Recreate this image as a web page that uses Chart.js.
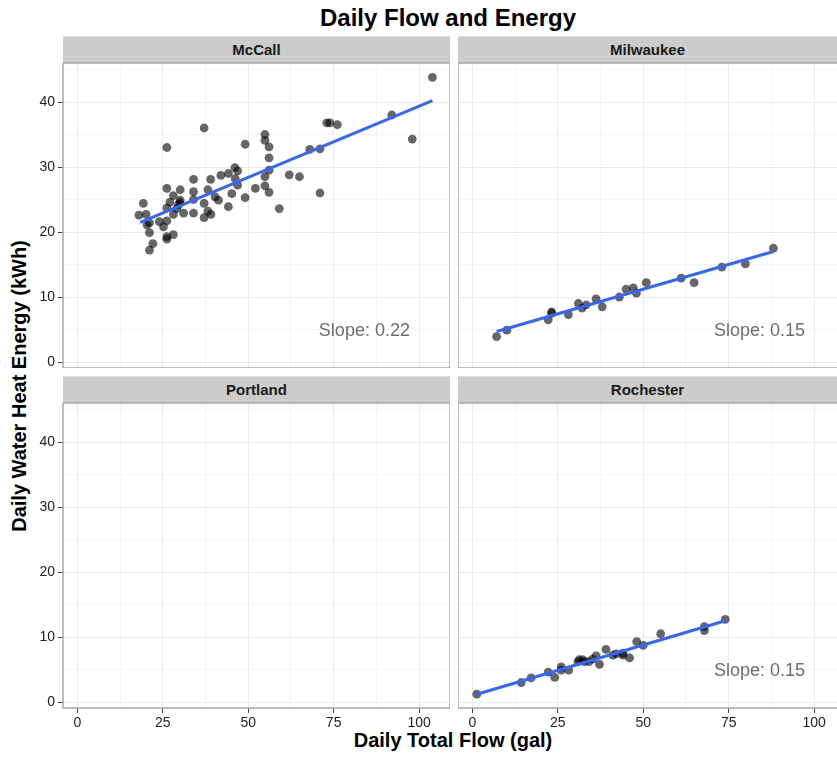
<!DOCTYPE html>
<html>
<head>
<meta charset="utf-8">
<title>Daily Flow and Energy</title>
<script src="https://cdn.jsdelivr.net/npm/chart.js"></script>
<style>
  body { margin: 0; background: #fff; font-family: "Liberation Sans", Arial, sans-serif; }
  #page { position: relative; width: 837px; height: 757px; overflow: hidden; background: #fff; }
  .strip { position: absolute; height: 27px; background: #cccccc; border-top: 1px solid #dedede; border-bottom: 1px solid #b0b0b0;
           box-sizing: border-box; font-weight: bold; font-size: 15px; color: #1a1a1a; text-align: center; line-height: 25px; }
  canvas { position: absolute; }
  #title { position: absolute; left: 198px; width: 500px; top: 6px; text-align: center; font-weight: bold; font-size: 24px; line-height: 24px; color: #000; }
  #xtitle { position: absolute; left: 253px; width: 400px; top: 730px; text-align: center; font-weight: bold; font-size: 20px; line-height: 20px; color: #000; }
  #ytitle { position: absolute; left: -181px; width: 400px; top: 376px; text-align: center; font-weight: bold; font-size: 20px; line-height: 20px; color: #000;
            transform: rotate(-90deg); }
</style>
</head>
<body>
<div id="page">
  <div id="title">Daily Flow and Energy</div>
  <div id="ytitle">Daily Water Heat Energy (kWh)</div>
  <div id="xtitle">Daily Total Flow (gal)</div>
</div>
<script>
// facets and axis ticks
const panelNames = ['McCall', 'Milwaukee', 'Portland', 'Rochester'];
const xTicks = [0, 25, 50, 75, 100];
const yTicks = [0, 10, 20, 30, 40];

// daily total flow (gal) / daily water heat energy (kWh)
const mccallFlow = [18.0, 19.3, 20.1, 20.4, 21.1, 21.1, 22.1, 21.1, 24.0, 25.2, 26.2, 26.2, 26.2, 28.1, 26.2, 27.1, 28.1, 29.1,
  29.6, 30.1, 30.0, 28.1, 26.2, 30.1, 26.2, 31.1, 34.0, 34.0, 34.0, 34.0, 37.1, 37.1, 37.1, 38.2, 39.1, 38.2, 39.0, 40.3, 41.3,
  42.0, 44.2, 44.2, 45.2, 46.1, 46.9, 46.2, 46.9, 49.1, 49.1, 52.1, 54.9, 54.9, 56.1, 56.1, 56.1, 54.9, 54.9, 56.1, 59.1, 62.0,
  65.0, 68.0, 71.0, 71.0, 73.0, 73.9, 76.1, 92.0, 98.0, 103.9];
const mccallEnergy = [22.6, 24.4, 22.7, 21.1, 21.4, 19.9, 18.2, 17.2, 21.6, 20.8, 21.7, 19.3, 18.9, 19.6, 23.7, 24.6, 22.7, 23.6,
  24.2, 24.9, 24.5, 25.6, 26.7, 26.5, 33.0, 22.9, 22.9, 25.0, 26.2, 28.1, 22.2, 24.4, 36.0, 23.2, 22.7, 26.5, 28.1, 25.4, 24.9,
  28.7, 29.0, 23.9, 25.9, 29.9, 29.4, 28.2, 27.2, 25.3, 33.5, 26.7, 35.0, 34.1, 33.1, 31.4, 29.5, 28.5, 27.1, 26.1, 23.6, 28.8,
  28.5, 32.7, 32.8, 26.0, 36.8, 36.8, 36.5, 38.0, 34.3, 43.8];

const milwaukeeFlow = [7.1, 10.1, 22.2, 23.2, 23.2, 28.1, 31.0, 32.1, 33.3, 36.2, 38.0, 43.0, 45.0, 47.1, 48.0, 50.9, 61.1, 64.9,
  73.0, 79.9, 88.1];
const milwaukeeEnergy = [3.9, 4.9, 6.5, 7.5, 7.7, 7.3, 9.0, 8.3, 8.8, 9.7, 8.5, 10.0, 11.2, 11.4, 10.6, 12.2, 12.9, 12.2,
  14.6, 15.1, 17.5];

const portlandFlow = [];
const portlandEnergy = [];

const rochesterFlow = [1.3, 14.3, 17.2, 22.2, 24.1, 26.0, 26.0, 28.2, 30.9, 31.3, 32.3, 32.8, 34.1, 35.2, 36.2, 37.2, 39.1, 41.1,
  42.1, 44.0, 44.1, 46.0, 48.1, 50.0, 55.1, 67.9, 67.9, 74.0];
const rochesterEnergy = [1.2, 3.0, 3.7, 4.6, 3.8, 5.4, 4.9, 4.9, 6.2, 6.5, 6.5, 6.2, 6.2, 6.6, 7.1, 5.8, 8.1, 7.2,
  7.4, 7.5, 7.2, 6.8, 9.3, 8.7, 10.5, 11.6, 11.0, 12.7];

// fitted line end points
const mccallFitFlow = [18.4, 103.9];
const mccallFitEnergy = [21.5, 40.2];
const milwaukeeFitFlow = [7.1, 88.1];
const milwaukeeFitEnergy = [4.7, 17.0];
const rochesterFitFlow = [1.3, 74.0];
const rochesterFitEnergy = [1.2, 12.5];

const slopeLabels = ['Slope: 0.22', 'Slope: 0.15', '', 'Slope: 0.15'];

Chart.defaults.font.family = '"Liberation Sans", Arial, sans-serif';

const panels = [
  [mccallFlow, mccallEnergy, mccallFitFlow, mccallFitEnergy],
  [milwaukeeFlow, milwaukeeEnergy, milwaukeeFitFlow, milwaukeeFitEnergy],
  [portlandFlow, portlandEnergy, [], []],
  [rochesterFlow, rochesterEnergy, rochesterFitFlow, rochesterFitEnergy]
];

// layout
const colLeft = [0, 458], colWidth = [450, 379], yAxisW = [63, 0], xMax = [109.05, 106.7];
const plotTop = [63, 403], stripTop = [36, 376], plotH = 305, xAxisH = [0, 40];
const yMin = -0.92, yMax = 46.0, xMin = -4.2;
const labelX = 84, labelY = 4.8;

const page = document.getElementById('page');
const pairs = (xs, ys) => xs.map((x, k) => ({ x: x, y: ys[k] }));
const xGrid = [];
for (let v = 0; v <= 100; v += 12.5) xGrid.push(v);
const yGrid = [];
for (let v = 0; v <= 45; v += 5) yGrid.push(v);

// no extra room for overflowing labels, the canvas edges are the panel edges
function noPad(s) { s.paddingTop = s.paddingBottom = s.paddingLeft = s.paddingRight = 0; }

panelNames.forEach((name, i) => {
  const col = i % 2, row = Math.floor(i / 2);
  const [flow, energy, fitFlow, fitEnergy] = panels[i];

  const strip = document.createElement('div');
  strip.className = 'strip';
  strip.textContent = name;
  strip.style.left = (colLeft[col] + yAxisW[col]) + 'px';
  strip.style.width = (colWidth[col] - yAxisW[col]) + 'px';
  strip.style.top = stripTop[row] + 'px';
  page.appendChild(strip);

  const cv = document.createElement('canvas');
  cv.width = colWidth[col];
  cv.height = plotH + xAxisH[row];
  cv.style.left = colLeft[col] + 'px';
  cv.style.top = plotTop[row] + 'px';
  page.appendChild(cv);

  const decor = {
    id: 'decor',
    afterDatasetsDraw(chart) {
      const c = chart.ctx, a = chart.chartArea;
      c.save();
      if (slopeLabels[i]) {
        c.font = '18px "Liberation Sans", Arial, sans-serif';
        c.fillStyle = '#6e6e6e';
        c.textAlign = 'center';
        c.textBaseline = 'middle';
        c.fillText(slopeLabels[i], chart.scales.x.getPixelForValue(labelX), chart.scales.y.getPixelForValue(labelY));
      }
      c.strokeStyle = '#a8a8a8';
      c.lineWidth = 1.5;
      c.beginPath();
      c.moveTo(a.right, a.top); c.lineTo(a.left, a.top); c.lineTo(a.left, a.bottom); c.lineTo(a.right, a.bottom);
      if (col === 0) c.lineTo(a.right, a.top);
      c.stroke();
      c.restore();
    }
  };

  new Chart(cv, {
    type: 'scatter',
    data: {
      datasets: [
        { type: 'line', data: pairs(fitFlow, fitEnergy), showLine: true, borderColor: '#3366FF', borderWidth: 3,
          pointRadius: 0, fill: false, order: 0 },
        { data: pairs(flow, energy), backgroundColor: 'rgba(0,0,0,0.6)', borderWidth: 0, pointRadius: 4.4, order: 1 }
      ]
    },
    options: {
      responsive: false,
      animation: false,
      events: [],
      layout: { padding: 0, autoPadding: false },
      plugins: { legend: { display: false }, tooltip: { enabled: false } },
      scales: {
        x: {
          type: 'linear', min: xMin, max: xMax[col],
          afterBuildTicks: s => { s.ticks = xGrid.map(v => ({ value: v })); },
          afterFit: s => { s.height = xAxisH[row]; noPad(s); },
          border: { display: false },
          grid: {
            drawTicks: row === 1, tickLength: 5,
            color: c => xTicks.includes(c.tick.value) ? '#ebebeb' : '#f5f5f5',
            tickColor: c => xTicks.includes(c.tick.value) ? '#444' : 'rgba(0,0,0,0)'
          },
          ticks: {
            display: row === 1, autoSkip: false, maxRotation: 0, padding: 2,
            color: '#1f1f1f', font: { size: 14 },
            callback: v => xTicks.includes(v) ? String(v) : ''
          }
        },
        y: {
          type: 'linear', min: yMin, max: yMax,
          afterBuildTicks: s => { s.ticks = yGrid.map(v => ({ value: v })); },
          afterFit: s => { s.width = yAxisW[col]; noPad(s); },
          border: { display: false },
          grid: {
            drawTicks: col === 0, tickLength: 5,
            color: c => yTicks.includes(c.tick.value) ? '#ebebeb' : '#f5f5f5',
            tickColor: c => yTicks.includes(c.tick.value) ? '#444' : 'rgba(0,0,0,0)'
          },
          ticks: {
            display: col === 0, autoSkip: false, padding: 3,
            color: '#1f1f1f', font: { size: 14 },
            callback: v => yTicks.includes(v) ? String(v) : ''
          }
        }
      }
    },
    plugins: [decor]
  });
});
</script>
</body>
</html>
